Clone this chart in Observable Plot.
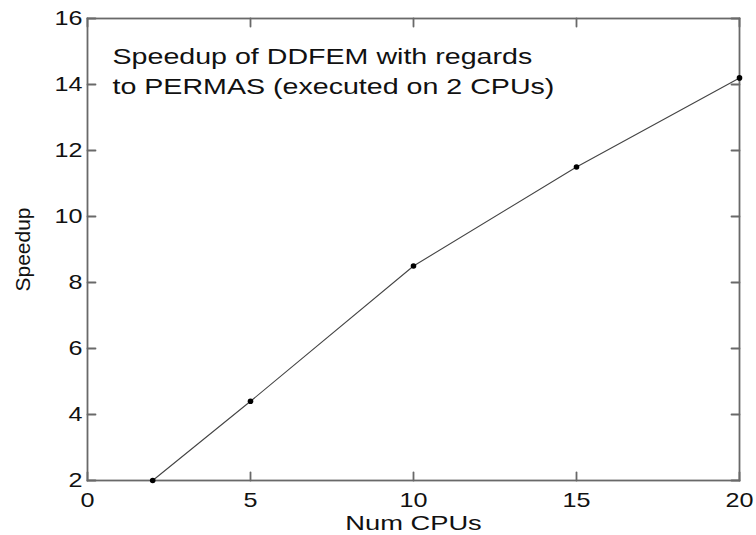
<!DOCTYPE html>
<html><head><meta charset="utf-8">
<script src="https://cdn.jsdelivr.net/npm/d3@7"></script>
<script src="https://cdn.jsdelivr.net/npm/@observablehq/plot@0.6"></script>
<style>
body{margin:0;background:#fff;}
#chart svg{font-family:'Liberation Sans', Arial, Helvetica, sans-serif; font-size:21px; color:#111; background:#fff;}
</style>
</head><body><div id="chart"></div>
<script>
const numCPUs = [2, 5, 10, 15, 20];
const speedup = [2.0, 4.4, 8.5, 11.5, 14.2];
const xTicks = [0, 5, 10, 15, 20];
const yTicks = [2, 4, 6, 8, 10, 12, 14, 16];
const titleLines = ["Speedup of DDFEM with regards", "to PERMAS (executed on 2 CPUs)"];
const xLabel = "Num CPUs";
const yLabel = "Speedup";

const data = numCPUs.map((x, i) => ({x, y: speedup[i]}));
const tickShape = {draw(context, l) { context.moveTo(0, 0); context.lineTo(0, -l); }};

const plot = Plot.plot({
  width: 756, height: 535,
  marginLeft: 87, marginRight: 17, marginTop: 18, marginBottom: 55,
  x: {domain: [0, 20]},
  y: {domain: [2, 16]},
  marks: [
    Plot.frame({stroke: "dimgray", strokeWidth: 1.8}),
    // inward ticks on all four sides
    Plot.vector(xTicks, {x: d => d, frameAnchor: "bottom", rotate: 0, length: 8, anchor: "start", shape: tickShape, stroke: "dimgray", strokeWidth: 1.8}),
    Plot.vector(xTicks, {x: d => d, frameAnchor: "top", rotate: 180, length: 8, anchor: "start", shape: tickShape, stroke: "dimgray", strokeWidth: 1.8}),
    Plot.vector(yTicks, {y: d => d, frameAnchor: "left", rotate: 90, length: 8, anchor: "start", shape: tickShape, stroke: "dimgray", strokeWidth: 1.8}),
    Plot.vector(yTicks, {y: d => d, frameAnchor: "right", rotate: -90, length: 8, anchor: "start", shape: tickShape, stroke: "dimgray", strokeWidth: 1.8}),
    // tick labels and axis titles
    Plot.axisX(xTicks, {anchor: "bottom", tickSize: 0, tickPadding: 12, label: xLabel, labelAnchor: "center", labelArrow: "none", labelOffset: 49, fontSize: 21, fill: "#111"}),
    Plot.axisY(yTicks, {anchor: "left", tickSize: 0, tickPadding: 5, label: yLabel, labelAnchor: "center", labelArrow: "none", labelOffset: 72, fontSize: 21, fill: "#111"}),
    Plot.line(data, {x: "x", y: "y", stroke: "#444", strokeWidth: 1.1}),
    Plot.dot(data, {x: "x", y: "y", r: 2.8, fill: "#000", stroke: null}),
    Plot.text([titleLines.join("\n")], {frameAnchor: "top-left", dx: 25, dy: 24, textAnchor: "start", lineAnchor: "top", fontSize: 22, lineHeight: 1.36, fill: "#111"})
  ]
});
document.getElementById("chart").appendChild(plot);

// The reference figure is horizontally stretched: widen horizontal text glyphs to match.
plot.querySelectorAll("text").forEach(t => {
  const tr = t.getAttribute("transform") || "";
  if (tr.includes("rotate")) return;
  const isTick = /^\d+$/.test(t.textContent.trim());
  const factor = isTick ? 1.2 : 1.3;
  const parts = t.querySelectorAll("tspan").length ? t.querySelectorAll("tspan") : [t];
  parts.forEach(p => {
    const len = p.getComputedTextLength();
    if (len > 0) {
      p.setAttribute("textLength", (len * factor).toFixed(1));
      p.setAttribute("lengthAdjust", "spacingAndGlyphs");
    }
  });
});
</script>
</body></html>
